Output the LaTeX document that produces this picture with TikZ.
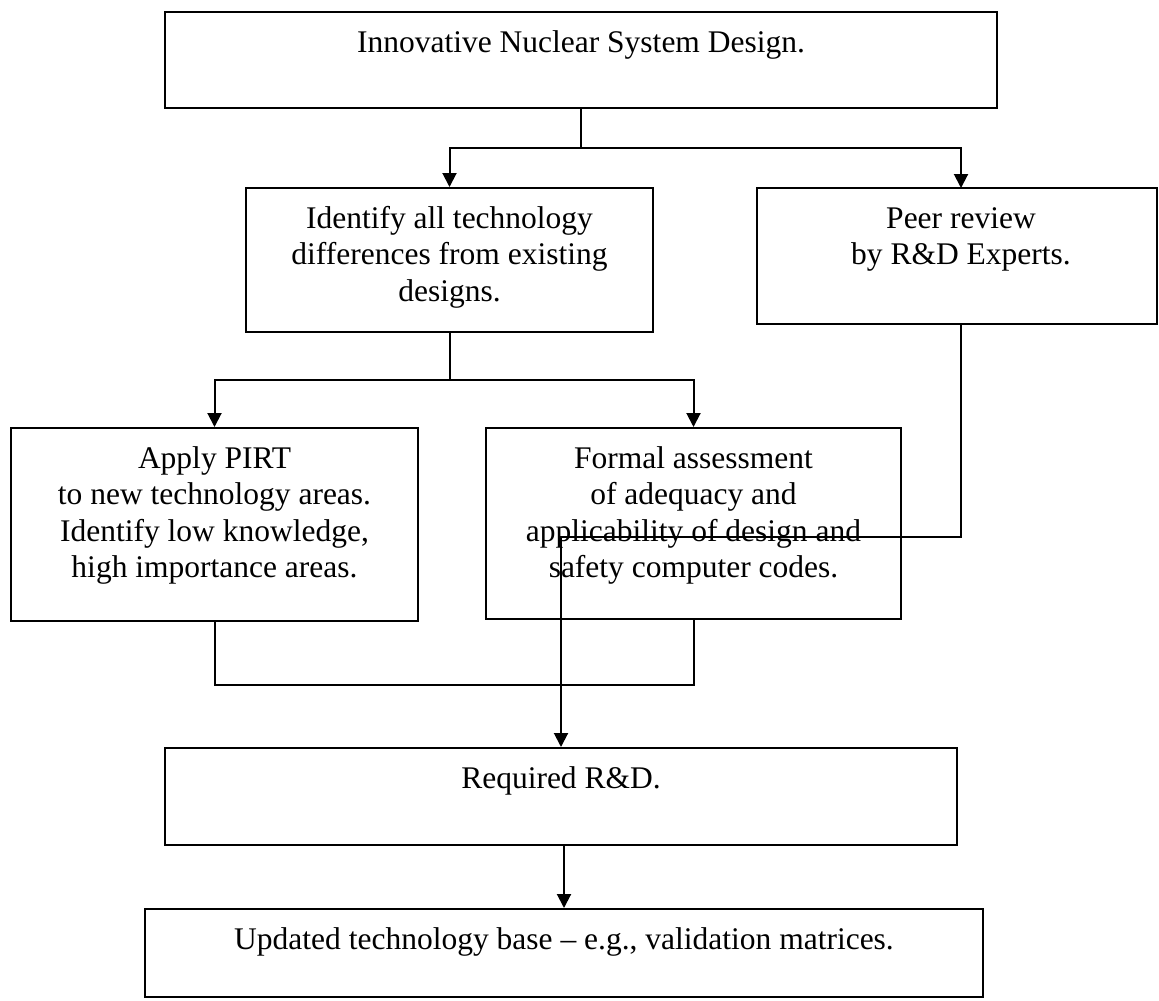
\documentclass[tikz,border=0pt]{standalone}
\usepackage{fontspec}
\setmainfont{Liberation Serif}
\usetikzlibrary{arrows.meta}
\begin{document}
\begin{tikzpicture}[x=1pt,y=-1pt,
  box/.style={draw, line width=2pt, inner sep=0pt, rectangle},
  txt/.style={align=center, inner sep=0pt, anchor=north, font=\fontsize{31.5}{36.5}\selectfont},
  conn/.style={line width=2pt},
  arr/.style={conn, -{Triangle[length=14pt,width=14pt]}}]
\useasboundingbox (0,0) rectangle (1159,1001);
\fill[white] (0,0) rectangle (1159,1001);
% boxes
\node[box, minimum width=832pt, minimum height=96pt] (top) at (581,60) {};
\node[box, minimum width=407pt, minimum height=144pt] (ident) at (449.5,260) {};
\node[box, minimum width=400pt, minimum height=136pt] (peer) at (957,256) {};
\node[box, minimum width=407pt, minimum height=193pt] (apply) at (214.5,524.5) {};
\node[box, minimum width=415pt, minimum height=191pt] (formal) at (693.5,523.5) {};
\node[box, minimum width=792pt, minimum height=97pt] (req) at (561,796.5) {};
\node[box, minimum width=838pt, minimum height=88pt] (upd) at (564,953) {};
% texts
\node[txt] (topt) at (581,26.5) {\strut Innovative Nuclear System Design.};
\node[txt] (identt) at (449.5,202.5) {\strut Identify all technology\\differences from existing\\designs.};
\node[txt] (peert) at (961,202.5) {\strut Peer review\\by R\&D Experts.};
\node[txt] (applyt) at (214.5,442.5) {\strut Apply PIRT\\to new technology areas.\\Identify low knowledge,\\high importance areas.};
\node[txt] (formalt) at (693.5,442.5) {\strut Formal assessment\\of adequacy and\\applicability of design and\\safety computer codes.};
\node[txt] (reqt) at (561,762.5) {\strut Required R\&D.};
\node[txt] (updt) at (564,923.5) {\strut Updated technology base – e.g., validation matrices.};
% connectors
\coordinate (j1) at (581,148);
\draw[conn] (top.south) -- (j1);
\draw[arr] (j1) -| (ident.north);
\draw[arr] (j1) -| (961,188);
\coordinate (j2) at (449.5,380);
\draw[conn] (ident.south) -- (j2);
\draw[arr] (j2) -| (apply.north);
\draw[arr] (j2) -| (formal.north);
\coordinate (j3) at (214.5,685);
\draw[conn] (apply.south) -- (j3) -| (formal.south);
\coordinate (j4) at (961,537);
\draw[arr] (961,324) -- (j4) -| (req.north);
\draw[arr] (upd.north |- req.south) -- (upd.north);
\end{tikzpicture}
\end{document}
